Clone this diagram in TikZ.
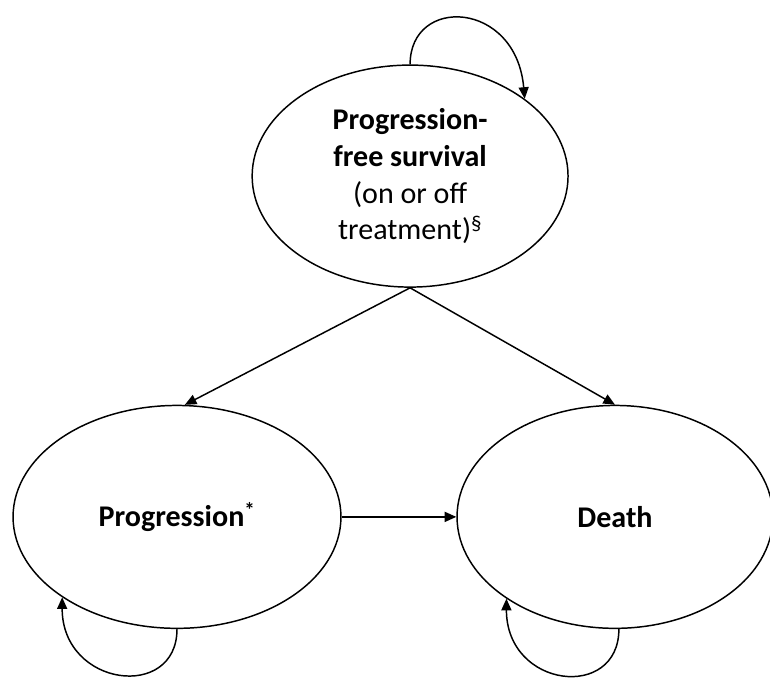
\documentclass[tikz,border=0pt]{standalone}
\usepackage{fontspec}
\setmainfont{Carlito}
\usetikzlibrary{shapes.geometric, arrows.meta, positioning}

\begin{document}
\begin{tikzpicture}[
    state/.style={ellipse, draw, line width=1.4pt, inner sep=0pt, align=center,
                  font=\fontsize{28.5}{35}\selectfont},
    arr/.style={line width=1.4pt, -{Triangle[length=11pt, width=9.5pt]}}
  ]
  \useasboundingbox (0, 0) rectangle (25.667, -22.7);
  \node[state, minimum width=10.53cm, minimum height=7.4cm] (pfs) at (13.67, -5.87)
    {\textbf{Progression-}\\\textbf{free survival}\\(on or off\\treatment)\textsuperscript{§}};
  \node[state, minimum width=10.93cm, minimum height=7.43cm] (prog) at (5.9, -17.23)
    {\textbf{Progression}\textsuperscript{\textbf{*}}};
  \node[state, minimum width=10.53cm, minimum height=7.43cm] (death) at (20.5, -17.23)
    {\textbf{Death}};
  \draw[arr] (pfs.south) -- (prog.86);
  \draw[arr] (pfs.south) -- (death.north);
  \draw[arr] (prog.east) -- (death.west);
  % self loops
  \draw[arr] (pfs.90) to[out=90, in=95, out distance=2.3cm, in distance=3.3cm] (pfs.34);
  \draw[arr] (prog.270) to[out=270, in=270, out distance=2.4cm, in distance=3cm] (prog.215);
  \draw[arr] (death.272) to[out=270, in=270, out distance=2.4cm, in distance=3cm] (death.217);
\end{tikzpicture}
\end{document}
